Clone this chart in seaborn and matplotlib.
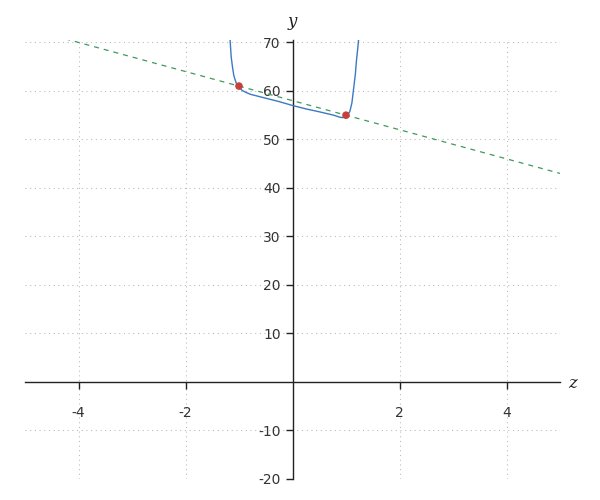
import numpy as np
import pandas as pd
import matplotlib
matplotlib.use('Agg')
import matplotlib.pyplot as plt
import seaborn as sns

# curva azul
curva_z = [-1.17, -1.146, -1.12, -1.097, -1.07, -1.047, -1.0, -0.94, -0.85, -0.785, -0.5,
           -0.25, 0.0, 0.25, 0.5, 0.77, 0.88, 0.93, 0.98, 1.02, 1.07, 1.11, 1.146, 1.175, 1.196, 1.22, 1.24]
curva_y = [71.1, 67.0, 64.8, 63.2, 62.2, 61.5, 60.8, 60.1, 59.6, 59.3, 58.5,
           57.8, 57.0, 56.3, 55.7, 55.0, 54.6, 54.5, 54.6, 55.0, 55.7, 57.5, 60.8, 63.5, 66.3, 68.8, 71.1]

# reta tracejada
reta_z = [-4.25, 5.0]
reta_y = [70.75, 43.0]

# pontos vermelhos
pontos_z = [-1, 1]
pontos_y = [61, 55]

xticks = [-4, -2, 2, 4]
yticks = [-20, -10, 10, 20, 30, 40, 50, 60, 70]

sns.set_style('white')
fig = plt.figure(figsize=(6, 5), dpi=100)
ax = fig.add_axes([25/600, 21/500, 535/600, 439/500])

df_curva = pd.DataFrame({'z': curva_z, 'y': curva_y})
df_reta = pd.DataFrame({'z': reta_z, 'y': reta_y})
df_pontos = pd.DataFrame({'z': pontos_z, 'y': pontos_y})

sns.lineplot(data=df_reta, x='z', y='y', ax=ax, color='#3e9a5c', lw=0.9,
             linestyle=(0, (4, 4)), zorder=2)
sns.lineplot(data=df_curva, x='z', y='y', ax=ax, color='#3c78c3', lw=1.0,
             sort=False, zorder=3)
sns.scatterplot(data=df_pontos, x='z', y='y', ax=ax, color='#c8403a', s=30,
                edgecolor='none', zorder=4)

ax.set_xlim(-5, 5)
ax.set_ylim(-20, 70.5)
ax.set_xticks(xticks)
ax.set_yticks(yticks)
ax.set_xticklabels([str(t) for t in xticks])
ax.set_yticklabels([str(t) for t in yticks])

# grade pontilhada
for t in [-4, -2, 0, 2, 4]:
    ax.axvline(t, color='#b8b8b8', lw=0.75, ls=(0, (1, 3.5)), zorder=0)
for t in [-20, -10, 0, 10, 20, 30, 40, 50, 60, 70]:
    ax.axhline(t, color='#b8b8b8', lw=0.75, ls=(0, (1, 3.5)), zorder=0)

ax.spines['left'].set_position(('data', 0))
ax.spines['bottom'].set_position(('data', 0))
ax.spines['right'].set_visible(False)
ax.spines['top'].set_visible(False)
for s in ['left', 'bottom']:
    ax.spines[s].set_color('#222222')
    ax.spines[s].set_linewidth(1.0)
ax.tick_params(axis='both', direction='out', length=5, width=1, color='#222222',
               labelsize=10, labelcolor='#333333', left=True, bottom=True)
ax.tick_params(axis='x', pad=12)
ax.set_xlabel('')
ax.set_ylabel('')
ax.text(5.15, -0.3, 'z', fontsize=12, family='DejaVu Serif', style='italic',
        va='center', ha='left', color='#222222')
ax.text(0, 72.6, 'y', fontsize=12, family='DejaVu Serif', style='italic',
        va='bottom', ha='center', color='#222222')
ax.set_facecolor('none')

fig.savefig('out.png', dpi=100)
